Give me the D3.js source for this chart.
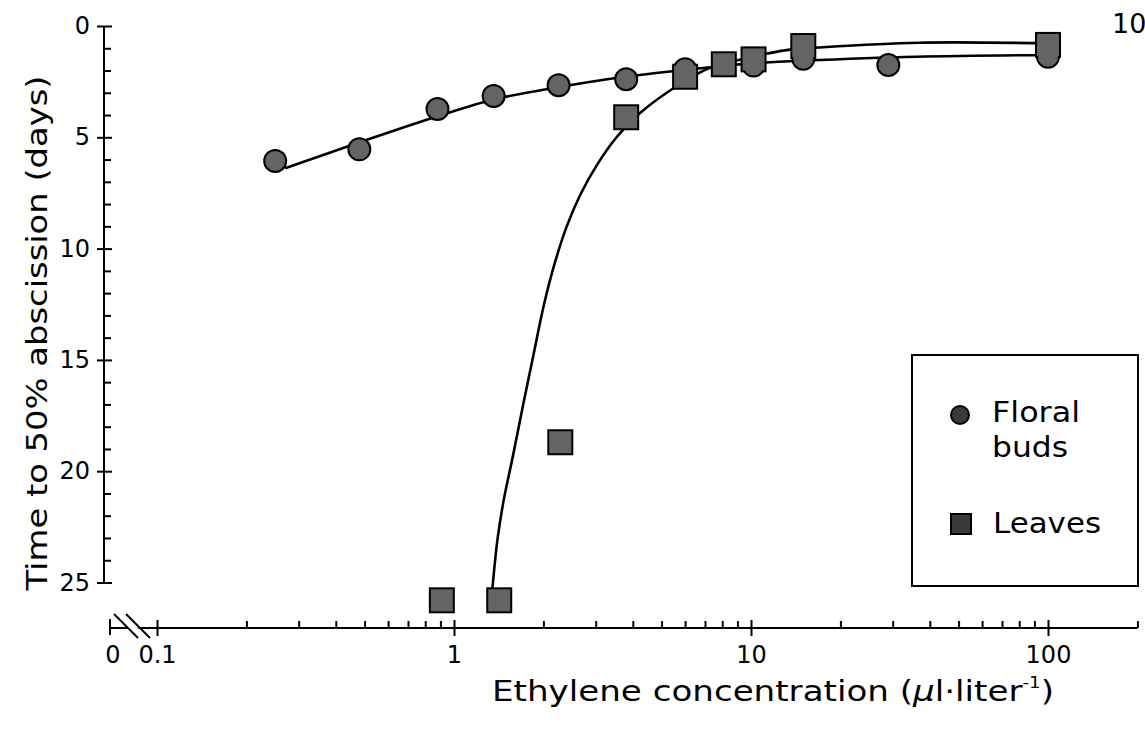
<!DOCTYPE html>
<html>
<head>
<meta charset="utf-8">
<script src="https://cdn.jsdelivr.net/npm/d3@7"></script>
<style>
  body { margin: 0; background: #fff; }
  text { font-family: 'DejaVu Sans', sans-serif; fill: #000; }
</style>
</head>
<body>
<svg id="chart" width="1145" height="731"></svg>
<script>
// Measured points: ethylene concentration (µl/l) vs. days to 50% abscission
const floralConc = [0.25, 0.48, 0.88, 1.36, 2.25, 3.8, 6.0, 10.2, 15, 29, 100];
const floralDays = [6.06, 5.54, 3.73, 3.14, 2.66, 2.39, 1.94, 1.78, 1.47, 1.75, 1.38];
const leavesConc = [0.91, 1.42, 2.28, 3.8, 6.0, 8.1, 10.2, 15, 100];
const leavesDays = [25.8, 25.8, 18.7, 4.1, 2.28, 1.72, 1.5, 0.9, 0.85];

// Fitted response curves
const floralFitConc = [0.27, 0.49, 0.86, 1.37, 2.24, 3.76, 5.7, 8, 10, 15, 36, 100];
const floralFitDays = [6.39, 5.19, 4.10, 3.29, 2.75, 2.28, 2.0, 1.8, 1.68, 1.56, 1.38, 1.30];
const leavesFitConc = [1.34, 1.40, 1.47, 1.58, 1.71, 1.85, 2.01, 2.19, 2.40, 2.66, 3.03, 3.51, 4.23, 5.7, 7.4, 9.1, 11.4, 13.7, 16.6, 36.6, 100];
const leavesFitDays = [25.6, 23.1, 21.3, 19.3, 17.0, 14.8, 12.5, 10.6, 8.98, 7.59, 6.24, 5.03, 3.91, 2.65, 1.83, 1.53, 1.23, 1.05, 0.97, 0.75, 0.78];

// Axis ticks
const yMajorTicks = [0, 5, 10, 15, 20, 25];
const yMinorTicks = d3.range(0, 26).filter(d => d % 5 !== 0);
const xMajorTicks = [0.1, 1, 10, 100];
const xMinorTicks = [0.2, 0.3, 0.4, 0.5, 0.6, 0.7, 0.8, 0.9, 2, 3, 4, 5, 6, 7, 8, 9, 20, 30, 40, 50, 60, 70, 80, 90, 200];
const xZeroLabel = "0";

const legendLabels = [["Floral", "buds"], ["Leaves"]];

const svg = d3.select("#chart");
svg.append("rect").attr("width", 1145).attr("height", 731).attr("fill", "#fff");

const x = d3.scaleLog().domain([0.1, 200]).range([157, 157 + 297 * Math.log10(2000)]);
const y = d3.scaleLinear().domain([0, 25]).range([26, 582.5]);

const yAxisX = 104;
const xAxisY = 628;
const zeroX = 110;
const ink = "#000";

// ---- Y axis ----
const gy = svg.append("g").attr("transform", `translate(${yAxisX},0)`);
gy.call(d3.axisLeft(y).tickValues(yMajorTicks).tickSize(7).tickPadding(7).tickFormat(d3.format("d")));
gy.select(".domain").remove();
gy.selectAll(".tick line").attr("x1", 8).attr("stroke", ink).attr("stroke-width", 2);
gy.selectAll(".tick text").attr("font-size", 24).attr("font-family", "'DejaVu Sans', sans-serif");
gy.append("line").attr("x1", 0).attr("x2", 0).attr("y1", y(0)).attr("y2", y(25))
  .attr("stroke", ink).attr("stroke-width", 2);

const gyMinor = svg.append("g").attr("transform", `translate(${yAxisX},0)`);
gyMinor.call(d3.axisRight(y).tickValues(yMinorTicks).tickSize(7).tickFormat(""));
gyMinor.select(".domain").remove();
gyMinor.selectAll(".tick line").attr("stroke", ink).attr("stroke-width", 2);

// ---- X axis ----
const gx = svg.append("g").attr("transform", `translate(0,${xAxisY})`);
gx.call(d3.axisBottom(x).tickValues(xMajorTicks).tickSize(8).tickFormat(d3.format("~g")));
gx.select(".domain").remove();
gx.selectAll(".tick line").attr("y1", -8).attr("stroke", ink).attr("stroke-width", 2);
gx.selectAll(".tick text").attr("font-size", 24).attr("font-family", "'DejaVu Sans', sans-serif")
  .attr("y", 35).attr("dy", 0);

const gxMinor = svg.append("g").attr("transform", `translate(0,${xAxisY})`);
gxMinor.call(d3.axisTop(x).tickValues(xMinorTicks).tickSize(7).tickFormat(""));
gxMinor.select(".domain").remove();
gxMinor.selectAll(".tick line").attr("stroke", ink).attr("stroke-width", 2);

// axis line, including the broken stub at zero
svg.append("line").attr("x1", zeroX).attr("x2", x(200)).attr("y1", xAxisY).attr("y2", xAxisY)
  .attr("stroke", ink).attr("stroke-width", 2);
svg.append("line").attr("x1", zeroX).attr("x2", zeroX).attr("y1", xAxisY - 9).attr("y2", xAxisY + 7)
  .attr("stroke", ink).attr("stroke-width", 2);
svg.append("text").attr("x", zeroX + 3).attr("y", xAxisY + 35).attr("text-anchor", "middle")
  .attr("font-size", 24).text(xZeroLabel);

// axis break
svg.append("polygon")
  .attr("points", `${zeroX + 6},${xAxisY - 12} ${zeroX + 16},${xAxisY - 12} ${zeroX + 38},${xAxisY + 10} ${zeroX + 28},${xAxisY + 10}`)
  .attr("fill", "#fff");
[[zeroX + 4, zeroX + 28], [zeroX + 16, zeroX + 40]].forEach(([a, b]) => {
  svg.append("line").attr("x1", a).attr("y1", xAxisY - 14).attr("x2", b).attr("y2", xAxisY + 10)
    .attr("stroke", ink).attr("stroke-width", 2);
});

// ---- Axis titles ----
svg.append("text")
  .attr("transform", `translate(47,333) rotate(-90)`)
  .attr("text-anchor", "middle").attr("font-size", 29)
  .attr("textLength", 515).attr("lengthAdjust", "spacingAndGlyphs")
  .text("Time to 50% abscission (days)");

const xt = svg.append("text").attr("x", 773).attr("y", 701).attr("text-anchor", "middle").attr("font-size", 28)
  .attr("textLength", 562).attr("lengthAdjust", "spacingAndGlyphs");
xt.append("tspan").text("Ethylene concentration (");
xt.append("tspan").attr("font-style", "italic").text("µ");
xt.append("tspan").text("l·liter");
xt.append("tspan").attr("font-size", 15).attr("dy", -13).text("-1");
xt.append("tspan").attr("dy", 13).text(")");

// stray label at top right
svg.append("text").attr("x", 1112).attr("y", 33).attr("font-size", 27).text("10");

// ---- Curves ----
const line = d3.line().x(d => x(d[0])).y(d => y(d[1])).curve(d3.curveCatmullRom.alpha(0.5));
const floralFit = floralFitConc.map((c, i) => [c, floralFitDays[i]]);
const leavesFit = leavesFitConc.map((c, i) => [c, leavesFitDays[i]]);
[floralFit, leavesFit].forEach(pts => {
  svg.append("path").attr("d", line(pts)).attr("fill", "none")
    .attr("stroke", ink).attr("stroke-width", 2.6).attr("stroke-linejoin", "round");
});

// ---- Markers (outline layer, then fill layer so overlaps merge) ----
const floral = floralConc.map((c, i) => ({ c, d: floralDays[i] }));
const leaves = leavesConc.map((c, i) => ({ c, d: leavesDays[i] }));
const R = 10, S = 22;
const markerFill = "#646464";

function drawMarkers(g, stroke) {
  g.selectAll("circle").data(floral).join("circle")
    .attr("cx", p => x(p.c)).attr("cy", p => y(p.d)).attr("r", R)
    .attr("fill", stroke ? ink : markerFill)
    .attr("stroke", stroke ? ink : "none").attr("stroke-width", stroke ? 4 : 0);
  g.selectAll("rect").data(leaves).join("rect")
    .attr("x", p => x(p.c) - S / 2).attr("y", p => y(p.d) - S / 2)
    .attr("width", S).attr("height", S)
    .attr("fill", stroke ? ink : markerFill)
    .attr("stroke", stroke ? ink : "none").attr("stroke-width", stroke ? 4 : 0);
}
drawMarkers(svg.append("g"), true);
drawMarkers(svg.append("g"), false);

// ---- Legend ----
const lg = svg.append("g");
lg.append("rect").attr("x", 912).attr("y", 355).attr("width", 226).attr("height", 231)
  .attr("fill", "#fff").attr("stroke", ink).attr("stroke-width", 2);
lg.append("circle").attr("cx", 960).attr("cy", 415).attr("r", 9)
  .attr("fill", "#3a3a3a").attr("stroke", ink).attr("stroke-width", 2);
lg.append("rect").attr("x", 951).attr("y", 514).attr("width", 20).attr("height", 20)
  .attr("fill", "#3a3a3a").attr("stroke", ink).attr("stroke-width", 2);
lg.append("text").attr("x", 992).attr("y", 422).attr("font-size", 28)
  .attr("textLength", 88).attr("lengthAdjust", "spacingAndGlyphs").text(legendLabels[0][0]);
lg.append("text").attr("x", 992).attr("y", 457).attr("font-size", 28)
  .attr("textLength", 76).attr("lengthAdjust", "spacingAndGlyphs").text(legendLabels[0][1]);
lg.append("text").attr("x", 993).attr("y", 533).attr("font-size", 28)
  .attr("textLength", 108).attr("lengthAdjust", "spacingAndGlyphs").text(legendLabels[1][0]);
</script>
</body>
</html>
